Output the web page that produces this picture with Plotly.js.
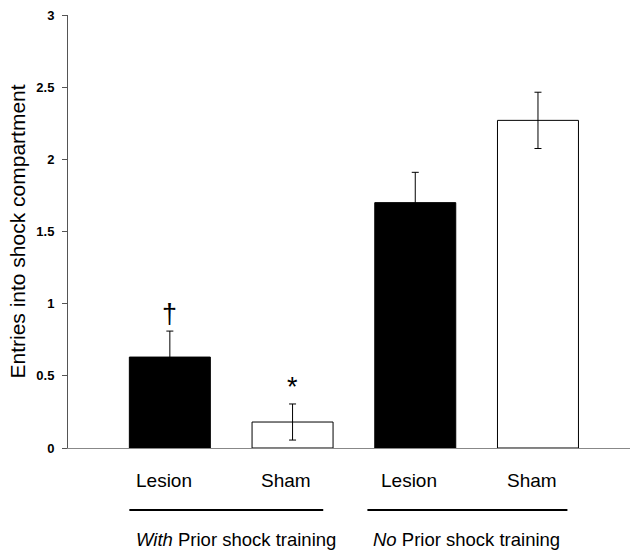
<!DOCTYPE html>
<html>
<head>
<meta charset="utf-8">
<script src="https://cdn.plot.ly/plotly-3.0.1.min.js"></script>
<style>html,body{margin:0;padding:0;background:#fff;}#chart{width:633px;height:554px;}</style>
</head>
<body>
<div id="chart"></div>
<script>
const categories = ["Lesion", "Sham", "Lesion", "Sham"];
const groupLabels = ["<i>With</i> Prior shock training", "<i>No</i> Prior shock training"];
const means = [0.63, 0.18, 1.70, 2.27];
const errors = [0.18, 0.125, 0.21, 0.195];
const fills = ["#000000", "#ffffff", "#000000", "#ffffff"];
const markers = ["†", "*", "", ""];
const yTicks = [0, 0.5, 1, 1.5, 2, 2.5, 3];

const xpos = categories.map((c, i) => i);
const FONT = "Liberation Sans, Arial, sans-serif";

const trace = {
  type: "bar",
  x: xpos,
  y: means,
  width: 0.66,
  marker: {color: fills, line: {color: "#000", width: 1}},
  error_y: {type: "data", array: errors, visible: true, color: "#000", thickness: 1, width: 3.5},
  hoverinfo: "none"
};

const annotations = [];
categories.forEach((c, i) => {
  annotations.push({x: i - 0.05, y: -0.074, xref: "x", yref: "paper", text: c, showarrow: false,
    xanchor: "center", yanchor: "middle",
    font: {family: FONT, size: 19, color: "#000"}});
  if (markers[i]) {
    annotations.push({x: i, y: means[i] + errors[i], xref: "x", yref: "y", text: markers[i], showarrow: false,
      xanchor: "center", yanchor: "bottom", yshift: 0,
      font: {family: FONT, size: 27, color: "#000"}});
  }
});
const groupCenters = [0.54, 2.42];
groupLabels.forEach((g, k) => {
  annotations.push({x: groupCenters[k], y: -0.212, xref: "x", yref: "paper", text: g, showarrow: false,
    xanchor: "center", yanchor: "middle",
    font: {family: FONT, size: 18.5, color: "#000"}});
});

const shapes = [
  {type: "line", xref: "x", yref: "paper", x0: -0.33, x1: 1.25, y0: -0.143, y1: -0.143, line: {color: "#000", width: 2}},
  {type: "line", xref: "x", yref: "paper", x0: 1.61, x1: 3.24, y0: -0.143, y1: -0.143, line: {color: "#000", width: 2}}
];

const layout = {
  width: 633, height: 554,
  margin: {l: 68, r: 3, t: 15, b: 106},
  paper_bgcolor: "#fff", plot_bgcolor: "#fff",
  showlegend: false,
  font: {family: FONT, color: "#000"},
  xaxis: {
    range: [-0.83, 3.75], showgrid: false, zeroline: false, showticklabels: false,
    showline: true, linecolor: "#888", linewidth: 1, ticks: "", fixedrange: true
  },
  yaxis: {
    range: [0, 3], tickvals: yTicks, ticktext: yTicks.map(String),
    showgrid: false, zeroline: false, showline: true, linecolor: "#555", linewidth: 1,
    ticks: "outside", ticklen: 5, tickcolor: "#555", ticklabelstandoff: 5,
    tickfont: {family: FONT, size: 13, color: "#000", weight: "bold"},
    title: {text: "Entries into shock compartment", font: {family: FONT, size: 21, color: "#000"}, standoff: 4}
  },
  annotations: annotations,
  shapes: shapes
};

Plotly.newPlot("chart", [trace], layout, {displayModeBar: false, staticPlot: true});
</script>
</body>
</html>
